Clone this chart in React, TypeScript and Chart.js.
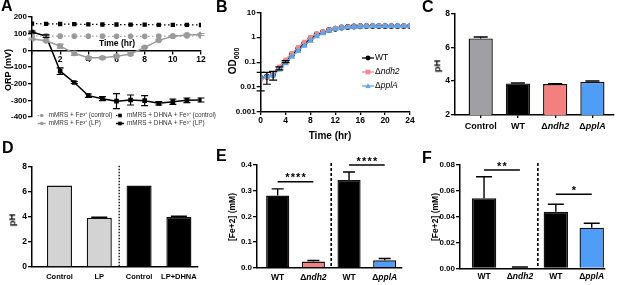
import React, { useEffect, useRef } from 'react';
import { Chart, registerables } from 'chart.js';
Chart.register(...registerables);

const FONT = "'Liberation Sans', Arial, Helvetica, sans-serif";

// ---------- Panel A: ORP over time ----------
const timeA = [0, 1, 2, 3, 4, 5, 6, 7, 8, 9, 10, 11, 12];
const orpFeControl = [86, 86, 85, 85, 85, 85, 84, 84, 84, 85, 85, 86, 86];
const orpFeLP = [68, 57, 25, -18, -45, -45, -35, -22, 18, 60, 85, 92, 95];
const orpFeLPErr = [5, 5, 12, 12, 8, 6, 6, 6, 4, 4, 4, 6, 6];
const orpDhnaControl = [160, 159, 158, 157, 156, 155, 155, 154, 154, 153, 153, 153, 152];
const orpDhnaLP = [110, 85, -125, -193, -272, -290, -305, -298, -302, -318, -308, -300, -298];
const orpDhnaLPErr = [5, 8, 20, 6, 10, 12, 45, 30, 30, 10, 16, 14, 12];
const legendA = [
  'mMRS + Fe³⁺ (control)',
  'mMRS + Fe³⁺ (LP)',
  'mMRS + DHNA + Fe³⁺ (control)',
  'mMRS + DHNA + Fe³⁺ (LP)',
];

// ---------- Panel B: growth curves ----------
const timeB = [0, 1, 2, 3, 4, 5, 6, 7, 8, 9, 10, 11, 12, 13, 14, 15, 16, 17, 18, 19, 20, 21, 22, 23, 24];
const odWT = [0.023, 0.026, 0.031, 0.057, 0.105, 0.2, 0.33, 0.56, 0.86, 1.3, 1.6, 1.95, 2.2, 2.45, 2.6, 2.7, 2.75, 2.8, 2.8, 2.8, 2.8, 2.8, 2.8, 2.8, 2.8];
const odWTErr = [0.016, 0.013, 0.012, 0.008, 0.01, 0, 0, 0, 0, 0, 0, 0, 0, 0, 0, 0, 0, 0, 0, 0, 0, 0, 0, 0, 0];
const odNdh2 = [0.02, 0.025, 0.035, 0.066, 0.125, 0.23, 0.4, 0.65, 1.0, 1.4, 1.7, 2.0, 2.3, 2.5, 2.6, 2.7, 2.75, 2.8, 2.8, 2.8, 2.8, 2.8, 2.8, 2.8, 2.8];
const odPplA = [0.025, 0.027, 0.03, 0.05, 0.09, 0.165, 0.28, 0.45, 0.72, 1.1, 1.45, 1.8, 2.15, 2.4, 2.55, 2.65, 2.7, 2.75, 2.8, 2.8, 2.8, 2.8, 2.8, 2.8, 2.8];
const odTicks = [0.001, 0.01, 0.1, 1, 10];
const legendB = ['WT', 'Δndh2', 'ΔpplA'];

// ---------- Panel C: pH of strains ----------
const catsC = ['Control', 'WT', 'Δndh2', 'ΔpplA'];
const phC = [6.52, 3.86, 3.83, 3.96];
const phCErr = [0.08, 0.03, 0.01, 0.05];

// ---------- Panel D: pH with DHNA ----------
const catsD = ['Control', 'LP', 'Control', 'LP+DHNA'];
const phD = [6.5, 3.92, 6.5, 4.0];
const phDErr = [0, 0.05, 0, 0.05];

// ---------- Panel E / F: Fe2+ ----------
const catsFe = ['WT', 'Δndh2', 'WT', 'ΔpplA'];
const feE = [0.281, 0.024, 0.342, 0.029];
const feEErr = [0.026, 0.004, 0.031, 0.007];
const sigE = [
  { from: 0, to: 1, y: 0.335, text: '****' },
  { from: 2, to: 3, y: 0.4, text: '****' },
];
const feF = [0.0542, 0.0005, 0.0438, 0.0315];
const feFErr = [0.0167, 0.0005, 0.0058, 0.0034];
const sigF = [
  { from: 0, to: 1, y: 0.0761, text: '**' },
  { from: 2, to: 3, y: 0.0573, text: '*' },
];

const GRAY = '#9a9a9a';
const SALMON = '#f47f7f';
const BLUE = '#4f9df7';

// ---------- helpers ----------
const fixW = (w: number) => (s: any) => { s.width = w; };
const fixH = (h: number) => (s: any) => { s.height = h; };
const xy = (xs: number[], ys: number[]) => xs.map((x, i) => ({ x, y: ys[i] }));

function fontStr(size: number, weight: string | number, italic: boolean) {
  return `${italic ? 'italic ' : ''}${weight} ${size}px ${FONT}`;
}

function drawRich(ctx: any, text: string, x: number, y: number, size: number, weight: string | number, align: 'center' | 'left') {
  const parts: [string, boolean][] = text.startsWith('Δ') ? [['Δ', false], [text.slice(1), true]] : [[text, false]];
  let total = 0;
  const widths = parts.map(([t, it]) => {
    ctx.font = fontStr(size, weight, it);
    const w = ctx.measureText(t).width;
    total += w;
    return w;
  });
  let cx = align === 'center' ? x - total / 2 : x;
  ctx.textAlign = 'left';
  parts.forEach(([t, it], i) => {
    ctx.font = fontStr(size, weight, it);
    ctx.fillText(t, cx, y);
    cx += widths[i];
  });
}

function drawMarker(ctx: any, style: string, x: number, y: number, r: number, color: string) {
  ctx.fillStyle = color;
  ctx.beginPath();
  if (style === 'rect') {
    ctx.rect(x - r, y - r, 2 * r, 2 * r);
  } else if (style === 'triangle') {
    ctx.moveTo(x, y - r * 1.2);
    ctx.lineTo(x + r * 1.1, y + r * 0.8);
    ctx.lineTo(x - r * 1.1, y + r * 0.8);
    ctx.closePath();
  } else {
    ctx.arc(x, y, r, 0, Math.PI * 2);
  }
  ctx.fill();
}

const errorBarPlugin = {
  id: 'errorBars',
  afterDatasetsDraw(chart: any, _a: any, opts: any) {
    const ctx = chart.ctx;
    chart.data.datasets.forEach((ds: any, di: number) => {
      const errs = ds.errors;
      if (!errs) return;
      const meta = chart.getDatasetMeta(di);
      const ys = chart.scales[meta.yAxisID];
      ctx.save();
      ctx.strokeStyle = ds.errorColor || (typeof ds.borderColor === 'string' ? ds.borderColor : '#000');
      ctx.lineWidth = opts.width || 1.2;
      ctx.setLineDash([]);
      const c = opts.cap || 3;
      meta.data.forEach((el: any, i: number) => {
        const e = errs[i];
        if (!e) return;
        const raw = ds.data[i];
        const v = typeof raw === 'number' ? raw : raw.y;
        const top = ys.getPixelForValue(v + e);
        const bot = ds.errorBoth ? ys.getPixelForValue(Math.max(v - e, ys.min)) : el.y;
        ctx.beginPath();
        ctx.moveTo(el.x, top);
        ctx.lineTo(el.x, bot);
        ctx.moveTo(el.x - c, top);
        ctx.lineTo(el.x + c, top);
        if (ds.errorBoth) {
          ctx.moveTo(el.x - c, bot);
          ctx.lineTo(el.x + c, bot);
        }
        ctx.stroke();
      });
      ctx.restore();
    });
  },
};

const lineLegendPlugin = {
  id: 'lineLegend',
  afterDraw(chart: any, _a: any, o: any) {
    if (!o || !o.labels) return;
    const ctx = chart.ctx;
    ctx.save();
    o.labels.forEach((label: string, k: number) => {
      const ds = chart.data.datasets[k];
      const col = Math.floor(k / o.rows);
      const row = k % o.rows;
      const x = o.x + col * o.colGap;
      const y = o.y + row * o.rowGap;
      ctx.strokeStyle = ds.borderColor;
      ctx.lineWidth = ds.borderWidth;
      ctx.setLineDash(ds.borderDash || []);
      ctx.beginPath();
      ctx.moveTo(x - o.lineHalf, y);
      ctx.lineTo(x + o.lineHalf, y);
      ctx.stroke();
      ctx.setLineDash([]);
      drawMarker(ctx, ds.pointStyle, x, y, o.markerR, ds.pointBackgroundColor);
      ctx.fillStyle = o.color;
      ctx.textBaseline = 'middle';
      drawRich(ctx, label, x + o.textGap, y, o.size, o.weight, 'left');
    });
    ctx.restore();
  },
};

const catLabelPlugin = {
  id: 'catLabels',
  afterDraw(chart: any, _a: any, o: any) {
    if (!o || !o.labels) return;
    const ctx = chart.ctx;
    const xs = chart.scales.x;
    ctx.save();
    ctx.fillStyle = '#000';
    ctx.textBaseline = 'middle';
    o.labels.forEach((lab: string, i: number) => {
      drawRich(ctx, lab, xs.getPixelForValue(i), chart.chartArea.bottom + o.offset, o.size, 'bold', 'center');
    });
    ctx.restore();
  },
};

const dividerPlugin = {
  id: 'divider',
  afterDraw(chart: any, _a: any, o: any) {
    if (!o || o.after == null) return;
    const ctx = chart.ctx;
    const x = chart.scales.x.getPixelForValue(o.after + 0.5);
    ctx.save();
    ctx.strokeStyle = '#000';
    ctx.lineWidth = o.width;
    ctx.setLineDash(o.dash);
    ctx.beginPath();
    ctx.moveTo(x, chart.chartArea.top - o.ext);
    ctx.lineTo(x, chart.chartArea.bottom);
    ctx.stroke();
    ctx.restore();
  },
};

const sigPlugin = {
  id: 'sigBars',
  afterDraw(chart: any, _a: any, o: any) {
    if (!o || !o.items) return;
    const ctx = chart.ctx;
    const xs = chart.scales.x;
    const ys = chart.scales.y;
    ctx.save();
    o.items.forEach((it: any) => {
      const x1 = xs.getPixelForValue(it.from);
      const x2 = xs.getPixelForValue(it.to);
      const y = ys.getPixelForValue(it.y);
      ctx.strokeStyle = '#000';
      ctx.lineWidth = 1.4;
      ctx.beginPath();
      ctx.moveTo(x1, y);
      ctx.lineTo(x2, y);
      ctx.stroke();
      ctx.fillStyle = '#000';
      ctx.font = fontStr(o.size, 'bold', false);
      ctx.textAlign = 'center';
      ctx.textBaseline = 'alphabetic';
      try { ctx.letterSpacing = o.spacing + 'px'; } catch (e) {}
      ctx.fillText(it.text, (x1 + x2) / 2 + o.spacing / 2, y + o.dy);
    });
    ctx.restore();
  },
};

const tickFont = (size: number) => ({ family: FONT, size, weight: 'bold' as const });
const axisGrid = (len: number) => ({ drawOnChartArea: false, tickLength: len, color: '#000', lineWidth: 1.3 });
const axisBorder = { color: '#000', width: 1.5 };

function configA() {
  return {
    type: 'line',
    data: {
      datasets: [
        { label: legendA[0], data: xy(timeA, orpFeControl), borderColor: GRAY, backgroundColor: GRAY, pointBackgroundColor: GRAY, pointBorderColor: GRAY, borderDash: [1.5, 2.5], borderWidth: 1.2, pointStyle: 'circle', pointRadius: 2.2 },
        { label: legendA[1], data: xy(timeA, orpFeLP), borderColor: GRAY, backgroundColor: GRAY, pointBackgroundColor: GRAY, pointBorderColor: GRAY, borderWidth: 1.5, pointStyle: 'circle', pointRadius: 2.2, errors: orpFeLPErr, errorBoth: true },
        { label: legendA[2], data: xy(timeA, orpDhnaControl), borderColor: '#000', backgroundColor: '#000', pointBackgroundColor: '#000', pointBorderColor: '#000', borderDash: [1.5, 2.5], borderWidth: 1.2, pointStyle: 'rect', pointRadius: 2.2 },
        { label: legendA[3], data: xy(timeA, orpDhnaLP), borderColor: '#000', backgroundColor: '#000', pointBackgroundColor: '#000', pointBorderColor: '#000', borderWidth: 1.5, pointStyle: 'rect', pointRadius: 2.2, errors: orpDhnaLPErr, errorBoth: true },
      ],
    },
    options: {
      animation: false, responsive: false, devicePixelRatio: 1,
      layout: { padding: { left: 0, right: 17, top: 17, bottom: 23 } },
      plugins: {
        legend: { display: false }, tooltip: { enabled: false },
        errorBars: { cap: 3.5, width: 1.2 },
        lineLegend: { labels: legendA, rows: 2, x: 41.7, y: 115.5, colGap: 78.3, rowGap: 8, lineHalf: 4, markerR: 1.8, textGap: 7, size: 6.4, weight: 'normal', color: '#333' },
      },
      scales: {
        x: {
          type: 'linear', min: 0, max: 12, position: { y: 0 },
          ticks: { stepSize: 2, callback: (v: number) => (v === 0 ? '' : String(v)), font: tickFont(8.5), color: '#000', padding: 1, maxRotation: 0 },
          grid: axisGrid(3), border: axisBorder,
        },
        y: {
          min: -400, max: 200,
          ticks: { stepSize: 100, font: tickFont(8), color: '#000', padding: 1 },
          grid: axisGrid(4), border: axisBorder, afterFit: fixW(32),
        },
      },
    },
    plugins: [errorBarPlugin, lineLegendPlugin],
  };
}

function configB() {
  return {
    type: 'line',
    data: {
      datasets: [
        { label: legendB[0], data: xy(timeB, odWT), borderColor: '#000', pointBackgroundColor: '#000', pointBorderColor: '#000', borderWidth: 1.3, pointStyle: 'circle', pointRadius: 2.3, errors: odWTErr, errorBoth: true },
        { label: legendB[1], data: xy(timeB, odNdh2), borderColor: '#f08c8c', pointBackgroundColor: '#f08c8c', pointBorderColor: '#f08c8c', borderWidth: 1.3, pointStyle: 'rect', pointRadius: 2.2 },
        { label: legendB[2], data: xy(timeB, odPplA), borderColor: '#5fa6ea', pointBackgroundColor: '#5fa6ea', pointBorderColor: '#5fa6ea', borderWidth: 1.3, pointStyle: 'triangle', pointRadius: 2.6 },
      ].reverse(),
    },
    options: {
      animation: false, responsive: false, devicePixelRatio: 1,
      layout: { padding: { left: 0, right: 7, top: 12.3, bottom: 0 } },
      plugins: { legend: { display: false }, tooltip: { enabled: false }, errorBars: { cap: 4, width: 1.2 } },
      scales: {
        x: {
          type: 'linear', min: 0, max: 24,
          ticks: { stepSize: 4, font: tickFont(8.5), color: '#000', padding: 1, maxRotation: 0 },
          grid: axisGrid(3), border: axisBorder, afterFit: fixH(28),
        },
        y: {
          type: 'logarithmic', min: 0.001, max: 10,
          afterBuildTicks: (s: any) => { s.ticks = odTicks.map((v) => ({ value: v })); },
          ticks: { callback: (v: number) => String(v), font: tickFont(8), color: '#000', padding: 1 },
          grid: axisGrid(4), border: axisBorder, afterFit: fixW(60.7),
        },
      },
    },
    plugins: [errorBarPlugin],
  };
}

// legend for B, drawn inside the plot area
const legendBPlugin = {
  id: 'legendB',
  afterDraw(chart: any) {
    const ctx = chart.ctx;
    const order = [2, 1, 0]; // datasets were reversed for draw order
    ctx.save();
    legendB.forEach((label, k) => {
      const ds = chart.data.datasets[order[k]];
      const x = 168;
      const y = 58 + k * 14;
      ctx.strokeStyle = ds.borderColor;
      ctx.lineWidth = 1.3;
      ctx.beginPath();
      ctx.moveTo(x - 6, y);
      ctx.lineTo(x + 6, y);
      ctx.stroke();
      drawMarker(ctx, ds.pointStyle, x, y, 2.4, ds.pointBackgroundColor);
      ctx.fillStyle = '#000';
      ctx.textBaseline = 'middle';
      drawRich(ctx, label, x + 7, y, 8.5, 'normal', 'left');
    });
    ctx.restore();
  },
};

function barChart(p: any) {
  return {
    type: 'bar',
    data: {
      datasets: [{
        data: p.values.map((v: number, i: number) => ({ x: i, y: v })),
        backgroundColor: p.colors, borderColor: '#111', borderWidth: 1.4,
        barPercentage: p.barPct, categoryPercentage: 1,
        errors: p.errors, errorColor: '#000',
      }],
    },
    options: {
      animation: false, responsive: false, devicePixelRatio: 1,
      layout: { padding: p.padding },
      plugins: {
        legend: { display: false }, tooltip: { enabled: false },
        errorBars: { cap: p.cap, width: 1.4 },
        catLabels: { labels: p.cats, offset: p.labelOffset, size: p.labelSize },
        divider: p.divider || {},
        sigBars: p.sig ? { items: p.sig, size: 11, spacing: 1.2, dy: -0.5 } : {},
      },
      scales: {
        x: {
          type: 'linear', min: p.xMin, max: p.xMax, offset: false,
          afterBuildTicks: (s: any) => { s.ticks = p.cats.map((_: string, i: number) => ({ value: i })); },
          ticks: { display: false },
          grid: { display: !!p.xTicks, drawOnChartArea: false, tickLength: 3, color: '#000', lineWidth: 1.3, offset: false },
          border: axisBorder, afterFit: fixH(p.xH),
        },
        y: {
          min: p.yMin, max: p.yMax,
          ticks: { stepSize: p.yStep, callback: p.yFmt, font: tickFont(p.tickSize), color: '#000', padding: 1 },
          grid: axisGrid(4), border: axisBorder, afterFit: fixW(p.yW),
        },
      },
    },
    plugins: [errorBarPlugin, catLabelPlugin, dividerPlugin, sigPlugin],
  };
}

const configC = () => barChart({
  cats: catsC, values: phC, errors: phCErr, colors: ['#a09fa3', '#000000', SALMON, BLUE],
  padding: { left: 0, right: 3, top: 13.3, bottom: 0 }, yW: 50, xH: 25,
  xMin: -0.69, xMax: 3.58, barPct: 0.65, cap: 7, xTicks: true,
  yMin: 2, yMax: 8, yStep: 2, yFmt: (v: number) => String(v), tickSize: 8.5,
  labelOffset: 11.7, labelSize: 9,
});
const configD = () => barChart({
  cats: catsD, values: phD, errors: phDErr, colors: ['#d3d3d3', '#d3d3d3', '#000000', '#000000'],
  padding: { left: 0, right: 7, top: 26.7, bottom: 0 }, yW: 32, xH: 18,
  xMin: -0.69, xMax: 3.48, barPct: 0.63, cap: 8,
  yMin: 0, yMax: 8, yStep: 2, yFmt: (v: number) => String(v), tickSize: 8.5,
  labelOffset: 9.7, labelSize: 7.5,
  divider: { after: 1, dash: [1.5, 1.5], width: 1.3, ext: 1 },
});
const configE = () => barChart({
  cats: catsFe, values: feE, errors: feEErr, colors: ['#000000', SALMON, '#000000', BLUE],
  padding: { left: 0, right: 8, top: 25, bottom: 0 }, yW: 52, xH: 17.3,
  xMin: -0.58, xMax: 3.485, barPct: 0.65, cap: 6,
  yMin: 0, yMax: 0.4, yStep: 0.1, yFmt: (v: number) => v.toFixed(1), tickSize: 8,
  labelOffset: 9.6, labelSize: 8.5,
  divider: { after: 1, dash: [3, 2], width: 1.6, ext: 2 },
  sig: sigE,
});
const configF = () => barChart({
  cats: catsFe, values: feF, errors: feFErr, colors: ['#000000', SALMON, '#000000', BLUE],
  padding: { left: 0, right: 12, top: 25, bottom: 0 }, yW: 50, xH: 16.7,
  xMin: -0.67, xMax: 3.37, barPct: 0.68, cap: 8,
  yMin: 0, yMax: 0.08, yStep: 0.02, yFmt: (v: number) => v.toFixed(2), tickSize: 8,
  labelOffset: 8.4, labelSize: 8.5,
  divider: { after: 1, dash: [3, 2], width: 1.6, ext: 2 },
  sig: sigF,
});

function ChartCanvas({ left, top, width, height, make, extra }: any) {
  const ref = useRef<HTMLCanvasElement | null>(null);
  useEffect(() => {
    const cfg: any = make();
    if (extra) cfg.plugins = [...(cfg.plugins || []), ...extra];
    const chart = new Chart(ref.current as HTMLCanvasElement, cfg);
    return () => chart.destroy();
  }, []);
  return <canvas ref={ref} width={width} height={height} style={{ position: 'absolute', left, top, width, height }} />;
}

function Txt({ x, y, size, rot, children, weight = 700 }: any) {
  return (
    <div style={{
      position: 'absolute', left: x, top: y,
      transform: `translate(-50%, -50%)${rot ? ' rotate(-90deg)' : ''}`,
      fontSize: size, fontWeight: weight, fontFamily: FONT, whiteSpace: 'nowrap', lineHeight: 1, color: '#000',
    }}>{children}</div>
  );
}

function Letter({ x, y, children }: any) {
  return (
    <div style={{ position: 'absolute', left: x, top: y, fontSize: 16, fontWeight: 700, fontFamily: FONT, lineHeight: 1, color: '#000' }}>{children}</div>
  );
}

export default function App() {
  return (
    <div style={{ position: 'absolute', left: 0, top: 0, width: 617, height: 285, background: '#fff', overflow: 'hidden', fontFamily: FONT }}>
      <ChartCanvas left={0} top={0} width={218} height={140} make={configA} />
      <ChartCanvas left={200} top={0} width={217} height={140} make={configB} extra={[legendBPlugin]} />
      <ChartCanvas left={405} top={0} width={212} height={140} make={configC} />
      <ChartCanvas left={0} top={140} width={205} height={145} make={configD} />
      <ChartCanvas left={205} top={140} width={205} height={145} make={configE} />
      <ChartCanvas left={410} top={140} width={207} height={145} make={configF} />

      <Letter x={1} y={-1.6}>A</Letter>
      <Letter x={216} y={-1}>B</Letter>
      <Letter x={422} y={-1}>C</Letter>
      <Letter x={2} y={140}>D</Letter>
      <Letter x={216} y={148}>E</Letter>
      <Letter x={422} y={150}>F</Letter>

      <Txt x={8.3} y={70} size={9} rot>ORP (mV)</Txt>
      <Txt x={117} y={43.3} size={8.5}>Time (hr)</Txt>
      <Txt x={233} y={61} size={10} rot>
        OD<span style={{ fontSize: 7, position: 'relative', top: 2.5 }}>600</span>
      </Txt>
      <Txt x={330} y={135.7} size={10}>Time (hr)</Txt>
      <Txt x={436.5} y={66} size={9.5} rot>pH</Txt>
      <Txt x={12} y={220} size={9.5} rot>pH</Txt>
      <Txt x={231.5} y={216.7} size={8.5} rot>[Fe+2] (mM)</Txt>
      <Txt x={435} y={217} size={8.5} rot>[Fe+2] (mM)</Txt>
    </div>
  );
}
